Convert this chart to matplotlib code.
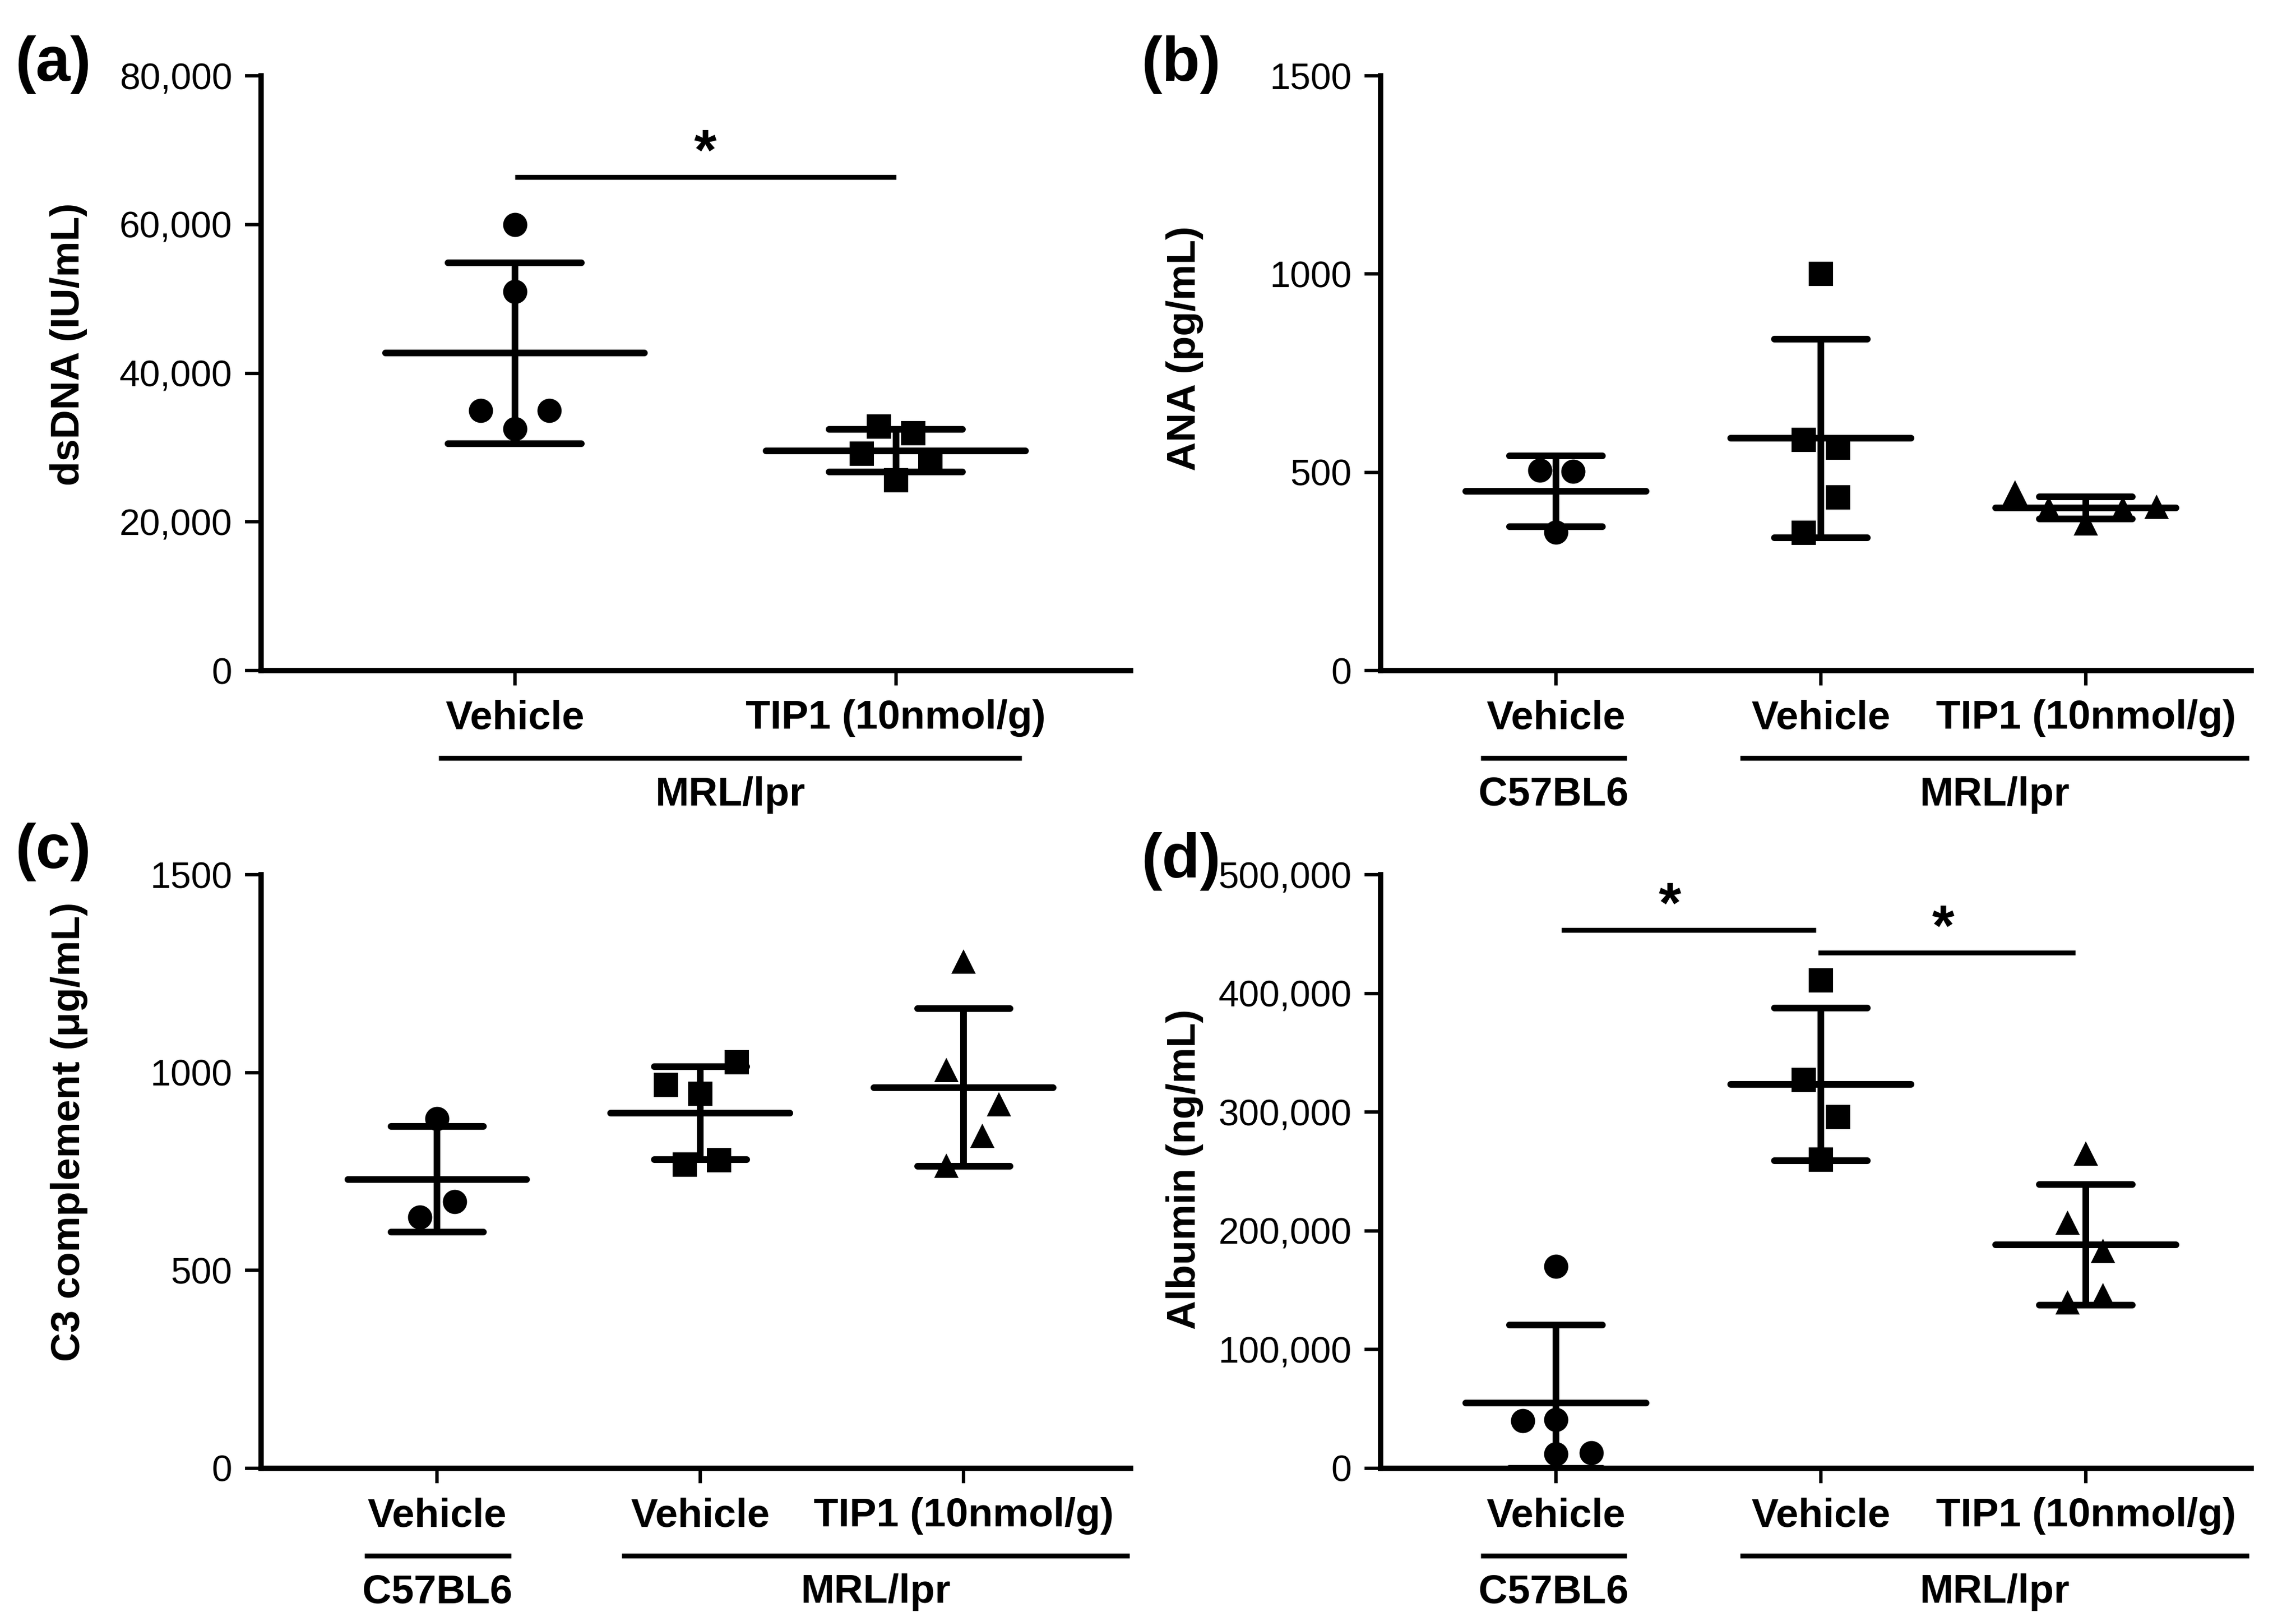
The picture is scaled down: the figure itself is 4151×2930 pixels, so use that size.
import numpy as np
import matplotlib
matplotlib.use("Agg")
import matplotlib.pyplot as plt
from matplotlib.ticker import FuncFormatter, FixedLocator
import matplotlib.transforms as mtransforms

plt.rcParams['font.family'] = ['Liberation Sans', 'DejaVu Sans']

# ---------------- data ----------------
# (a) dsDNA (IU/mL)
a_categories = ["Vehicle", "TIP1 (10nmol/g)"]
a_vehicle = [60000, 51000, 35000, 35000, 32500]
a_vehicle_off = [0.0, 0.0, -0.09, 0.09, 0.0]
a_tip1 = [32800, 31900, 29200, 28400, 25600]
a_tip1_off = [-0.045, 0.045, -0.09, 0.09, 0.0]
a_yticks = [0, 20000, 40000, 60000, 80000]

# (b) ANA (pg/mL)
b_categories = ["Vehicle", "Vehicle", "TIP1 (10nmol/g)"]
b_c57 = [505, 503, 349]
b_c57_off = [-0.06, 0.065, 0.0]
b_mrl = [1000, 582, 562, 437, 348]
b_mrl_off = [0.0, -0.064, 0.064, 0.064, -0.064]
b_tip1 = [450, 409, 371, 409, 413]
b_tip1_off = [-0.267, -0.14, 0.0, 0.14, 0.266]
b_yticks = [0, 500, 1000, 1500]

# (c) C3 complement (ug/mL)
c_categories = ["Vehicle", "Vehicle", "TIP1 (10nmol/g)"]
c_c57 = [883, 674, 634]
c_c57_off = [0.0, 0.067, -0.065]
c_mrl = [1026, 969, 946, 767, 778]
c_mrl_off = [0.138, -0.13, 0.0, -0.06, 0.07]
c_tip1 = [1281, 1006, 920, 840, 765]
c_tip1_off = [0.0, -0.065, 0.134, 0.07, -0.065]
c_yticks = [0, 500, 1000, 1500]

# (d) Albumin (ng/mL)
d_categories = ["Vehicle", "Vehicle", "TIP1 (10nmol/g)"]
d_c57 = [170000, 40000, 41000, 12000, 13000]
d_c57_off = [0.0, -0.126, 0.0, 0.0, 0.134]
d_mrl = [411000, 327000, 296000, 260000]
d_mrl_off = [0.0, -0.064, 0.064, 0.0]
d_tip1 = [265000, 207000, 183000, 140000, 146000]
d_tip1_off = [0.0, -0.07, 0.064, -0.07, 0.064]
d_yticks = [0, 100000, 200000, 300000, 400000, 500000]

# significance bars: (x_start, x_end, y, star_x)
a_sig = [(0.0, 1.0, 66400, 0.5)]
d_sig = [(0.02, 0.98, 453400, 0.43), (0.99, 1.96, 434300, 1.46)]

# ---------------- style ----------------
LW_AX = 2.3
LW_DATA = 2.9
LW_LINE = 2.1
MS = 10.5
TICK_FS = 16
LAB_FS = 17.5
PANEL_FS = 27
MEAN_HALF = 0.34
CAP_HALF = 0.175

fig = plt.figure(figsize=(4151 / 300, 2930 / 300), dpi=300)


def comma_fmt(v, pos):
    return f"{int(v):,}"


def plain_fmt(v, pos):
    return f"{int(v)}"


def setup_axes(rect, xlim, yticks, fmt, ylabel, ylab_pos, cats):
    ax = fig.add_axes(rect)
    ax.set_xlim(*xlim)
    ax.set_ylim(yticks[0], yticks[-1])
    for s in ["top", "right"]:
        ax.spines[s].set_visible(False)
    for s in ["left", "bottom"]:
        ax.spines[s].set_linewidth(LW_AX)
    ax.yaxis.set_major_locator(FixedLocator(yticks))
    ax.yaxis.set_major_formatter(FuncFormatter(fmt))
    ax.set_xticks(range(len(cats)))
    ax.set_xticklabels(cats, fontsize=LAB_FS, fontweight='bold')
    ax.tick_params(axis='y', direction='out', length=7, width=1.5, pad=5.5,
                   labelsize=TICK_FS)
    ax.tick_params(axis='x', direction='out', length=6.5, width=1.5, pad=6)
    ax.set_ylabel(ylabel, fontsize=LAB_FS, fontweight='bold')
    ax.yaxis.set_label_coords(*ylab_pos)
    return ax


def draw_group(ax, xc, vals, offs, marker):
    vals = np.asarray(vals, dtype=float)
    xs = xc + np.asarray(offs)
    ax.plot(xs, vals, linestyle='none', marker=marker, ms=MS, color='black',
            markeredgewidth=0, clip_on=False, zorder=3)
    m = vals.mean()
    sd = vals.std(ddof=1)
    lo = max(m - sd, ax.get_ylim()[0])
    ax.plot([xc - MEAN_HALF, xc + MEAN_HALF], [m, m], color='black',
            lw=LW_DATA, solid_capstyle='round', zorder=4)
    ax.plot([xc, xc], [lo, m + sd], color='black', lw=LW_DATA,
            solid_capstyle='butt', zorder=4)
    for yy in (m + sd, lo):
        ax.plot([xc - CAP_HALF, xc + CAP_HALF], [yy, yy], color='black',
                lw=LW_DATA, solid_capstyle='round', zorder=4)


def group_line(ax, x0, x1, label):
    tr = mtransforms.blended_transform_factory(ax.transData, ax.transAxes)
    ax.plot([x0, x1], [-0.147, -0.147], color='black', lw=LW_LINE,
            transform=tr, clip_on=False, solid_capstyle='butt')
    ax.text((x0 + x1) / 2, -0.209, label, transform=tr, ha='center',
            va='center', fontsize=LAB_FS, fontweight='bold')


def sig(ax, sigs):
    for x0, x1, y, sx in sigs:
        ax.plot([x0, x1], [y, y], color='black', lw=LW_LINE, clip_on=False,
                solid_capstyle='butt')
        ax.annotate("*", xy=(sx, y), xytext=(0, 3.2), textcoords='offset points',
                    ha='center', va='baseline', fontsize=25, fontweight='bold',
                    annotation_clip=False)


# ---- (a)
axa = setup_axes([0.1137, 0.5863, 0.3787, 0.3669], (-0.666, 1.616), a_yticks,
                 comma_fmt, "dsDNA (IU/mL)", (-0.200, 0.549), a_categories)
draw_group(axa, 0, a_vehicle, a_vehicle_off, 'o')
draw_group(axa, 1, a_tip1, a_tip1_off, 's')
group_line(axa, -0.2, 1.33, "MRL/lpr")
sig(axa, a_sig)

# ---- (b)
axb = setup_axes([0.6013, 0.5863, 0.3792, 0.3669], (-0.662, 2.624), b_yticks,
                 plain_fmt, "ANA (pg/mL)", (-0.203, 0.542), b_categories)
draw_group(axb, 0, b_c57, b_c57_off, 'o')
draw_group(axb, 1, b_mrl, b_mrl_off, 's')
draw_group(axb, 2, b_tip1, b_tip1_off, '^')
group_line(axb, -0.284, 0.267, "C57BL6")
group_line(axb, 0.695, 2.616, "MRL/lpr")

# ---- (c)
axc = setup_axes([0.1137, 0.0942, 0.3787, 0.3662], (-0.669, 2.634), c_yticks,
                 plain_fmt, "C3 complement (\u03bcg/mL)", (-0.199, 0.567),
                 c_categories)
draw_group(axc, 0, c_c57, c_c57_off, 'o')
draw_group(axc, 1, c_mrl, c_mrl_off, 's')
draw_group(axc, 2, c_tip1, c_tip1_off, '^')
group_line(axc, -0.277, 0.28, "C57BL6")
group_line(axc, 0.70, 2.63, "MRL/lpr")

# ---- (d)
axd = setup_axes([0.6013, 0.0942, 0.3792, 0.3662], (-0.662, 2.624), d_yticks,
                 comma_fmt, "Albumin (ng/mL)", (-0.203, 0.504), d_categories)
draw_group(axd, 0, d_c57, d_c57_off, 'o')
draw_group(axd, 1, d_mrl, d_mrl_off, 's')
draw_group(axd, 2, d_tip1, d_tip1_off, '^')
group_line(axd, -0.284, 0.267, "C57BL6")
group_line(axd, 0.695, 2.616, "MRL/lpr")
sig(axd, d_sig)

# panel letters
for x, y, t in [(0.0067, 0.960, "(a)"), (0.497, 0.960, "(b)"),
                (0.0065, 0.4744, "(c)"), (0.497, 0.4686, "(d)")]:
    fig.text(x, y, t, ha='left', va='center', fontsize=PANEL_FS,
             fontweight='bold')

fig.savefig("out.png", dpi=300, facecolor='white')
